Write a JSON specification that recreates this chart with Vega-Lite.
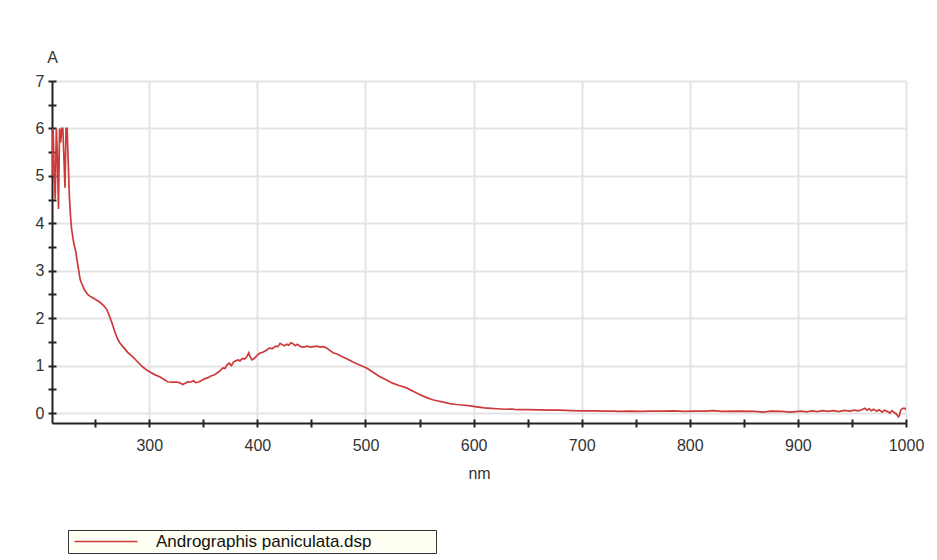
{
  "$schema": "https://vega.github.io/schema/vega-lite/v6.json",
  "width": 854,
  "height": 342,
  "autosize": {"type": "none"},
  "padding": {"left": 52, "top": 81, "right": 31, "bottom": 137},
  "background": "white",
  "config": {
    "view": {"stroke": null},
    "font": "Liberation Sans"
  },
  "data": {
    "values": [
      {"nm": 210, "A": 5.0}, {"nm": 211, "A": 6.0}, {"nm": 212, "A": 5.1}, {"nm": 213, "A": 4.5},
      {"nm": 214, "A": 6.0}, {"nm": 215, "A": 5.4}, {"nm": 216, "A": 4.3}, {"nm": 217, "A": 6.0},
      {"nm": 218, "A": 5.7}, {"nm": 219, "A": 6.0}, {"nm": 220, "A": 6.0}, {"nm": 221, "A": 5.4},
      {"nm": 222, "A": 4.75}, {"nm": 223, "A": 6.0}, {"nm": 224, "A": 6.0}, {"nm": 225, "A": 5.3},
      {"nm": 226, "A": 4.6}, {"nm": 227, "A": 4.2}, {"nm": 228, "A": 3.9}, {"nm": 229, "A": 3.75},
      {"nm": 230, "A": 3.6}, {"nm": 232, "A": 3.4}, {"nm": 234, "A": 3.1}, {"nm": 236, "A": 2.82},
      {"nm": 238, "A": 2.7}, {"nm": 240, "A": 2.6}, {"nm": 243, "A": 2.5}, {"nm": 246, "A": 2.45},
      {"nm": 250, "A": 2.4}, {"nm": 254, "A": 2.34}, {"nm": 258, "A": 2.26}, {"nm": 261, "A": 2.17},
      {"nm": 263, "A": 2.05}, {"nm": 265.5, "A": 1.9}, {"nm": 268, "A": 1.72}, {"nm": 271, "A": 1.55},
      {"nm": 273, "A": 1.47}, {"nm": 276, "A": 1.39}, {"nm": 280, "A": 1.28}, {"nm": 285, "A": 1.18},
      {"nm": 290, "A": 1.06}, {"nm": 294, "A": 0.97}, {"nm": 298, "A": 0.9}, {"nm": 301, "A": 0.86},
      {"nm": 305, "A": 0.81}, {"nm": 310, "A": 0.76}, {"nm": 314, "A": 0.7}, {"nm": 317, "A": 0.66},
      {"nm": 321, "A": 0.65}, {"nm": 325, "A": 0.65}, {"nm": 328, "A": 0.64}, {"nm": 331, "A": 0.6},
      {"nm": 334, "A": 0.64}, {"nm": 336, "A": 0.66}, {"nm": 338, "A": 0.65}, {"nm": 341, "A": 0.68},
      {"nm": 343, "A": 0.64}, {"nm": 345, "A": 0.65}, {"nm": 348, "A": 0.68}, {"nm": 351, "A": 0.72},
      {"nm": 354, "A": 0.74}, {"nm": 357, "A": 0.78}, {"nm": 360, "A": 0.8}, {"nm": 363, "A": 0.85},
      {"nm": 365, "A": 0.88}, {"nm": 368, "A": 0.95}, {"nm": 370, "A": 0.94}, {"nm": 372, "A": 1.02},
      {"nm": 374, "A": 1.05}, {"nm": 376, "A": 1.0}, {"nm": 378, "A": 1.08}, {"nm": 380, "A": 1.1},
      {"nm": 382, "A": 1.12}, {"nm": 384, "A": 1.1}, {"nm": 386, "A": 1.15}, {"nm": 388, "A": 1.14},
      {"nm": 390, "A": 1.18}, {"nm": 392, "A": 1.27}, {"nm": 393, "A": 1.2}, {"nm": 395, "A": 1.12},
      {"nm": 397, "A": 1.15}, {"nm": 399, "A": 1.2}, {"nm": 402, "A": 1.26}, {"nm": 405, "A": 1.28},
      {"nm": 408, "A": 1.32}, {"nm": 411, "A": 1.37}, {"nm": 414, "A": 1.36}, {"nm": 417, "A": 1.41},
      {"nm": 419, "A": 1.4}, {"nm": 421, "A": 1.47}, {"nm": 423, "A": 1.44}, {"nm": 425, "A": 1.42},
      {"nm": 427, "A": 1.45}, {"nm": 429, "A": 1.43}, {"nm": 431, "A": 1.48}, {"nm": 433, "A": 1.46},
      {"nm": 435, "A": 1.42}, {"nm": 437, "A": 1.45}, {"nm": 440, "A": 1.4}, {"nm": 443, "A": 1.39},
      {"nm": 446, "A": 1.41}, {"nm": 449, "A": 1.39}, {"nm": 452, "A": 1.4}, {"nm": 455, "A": 1.41},
      {"nm": 458, "A": 1.39}, {"nm": 461, "A": 1.4}, {"nm": 464, "A": 1.37}, {"nm": 467, "A": 1.32},
      {"nm": 470, "A": 1.27}, {"nm": 473, "A": 1.25}, {"nm": 476, "A": 1.22}, {"nm": 479, "A": 1.18},
      {"nm": 484, "A": 1.13}, {"nm": 488, "A": 1.08}, {"nm": 494, "A": 1.02}, {"nm": 501, "A": 0.95},
      {"nm": 507, "A": 0.86}, {"nm": 513, "A": 0.77}, {"nm": 519, "A": 0.7}, {"nm": 525, "A": 0.63},
      {"nm": 531, "A": 0.58}, {"nm": 538, "A": 0.53}, {"nm": 544, "A": 0.46}, {"nm": 550, "A": 0.39},
      {"nm": 556, "A": 0.33}, {"nm": 562, "A": 0.28}, {"nm": 566, "A": 0.26}, {"nm": 572, "A": 0.23},
      {"nm": 578, "A": 0.2}, {"nm": 584, "A": 0.18}, {"nm": 590, "A": 0.17}, {"nm": 597, "A": 0.15},
      {"nm": 603, "A": 0.13}, {"nm": 610, "A": 0.11}, {"nm": 616, "A": 0.1}, {"nm": 622, "A": 0.09},
      {"nm": 630, "A": 0.08}, {"nm": 636, "A": 0.085}, {"nm": 640, "A": 0.07}, {"nm": 650, "A": 0.07},
      {"nm": 660, "A": 0.065}, {"nm": 673, "A": 0.06}, {"nm": 680, "A": 0.06}, {"nm": 690, "A": 0.05},
      {"nm": 700, "A": 0.045}, {"nm": 712, "A": 0.045}, {"nm": 720, "A": 0.04}, {"nm": 730, "A": 0.04},
      {"nm": 735, "A": 0.035}, {"nm": 745, "A": 0.04}, {"nm": 755, "A": 0.035}, {"nm": 765, "A": 0.04},
      {"nm": 775, "A": 0.04}, {"nm": 785, "A": 0.045}, {"nm": 795, "A": 0.035}, {"nm": 805, "A": 0.04},
      {"nm": 815, "A": 0.04}, {"nm": 822, "A": 0.05}, {"nm": 830, "A": 0.035}, {"nm": 845, "A": 0.04},
      {"nm": 860, "A": 0.035}, {"nm": 868, "A": 0.02}, {"nm": 875, "A": 0.04}, {"nm": 885, "A": 0.035},
      {"nm": 893, "A": 0.02}, {"nm": 898, "A": 0.03}, {"nm": 903, "A": 0.04}, {"nm": 908, "A": 0.025},
      {"nm": 913, "A": 0.045}, {"nm": 918, "A": 0.03}, {"nm": 923, "A": 0.05}, {"nm": 928, "A": 0.035},
      {"nm": 933, "A": 0.05}, {"nm": 938, "A": 0.03}, {"nm": 943, "A": 0.055}, {"nm": 948, "A": 0.04},
      {"nm": 952, "A": 0.06}, {"nm": 956, "A": 0.045}, {"nm": 960, "A": 0.08}, {"nm": 962, "A": 0.1},
      {"nm": 964, "A": 0.06}, {"nm": 966, "A": 0.09}, {"nm": 968, "A": 0.05}, {"nm": 970, "A": 0.08},
      {"nm": 973, "A": 0.04}, {"nm": 975, "A": 0.07}, {"nm": 978, "A": 0.02}, {"nm": 980, "A": 0.06},
      {"nm": 983, "A": 0.03}, {"nm": 985, "A": 0.0}, {"nm": 987, "A": 0.05}, {"nm": 989, "A": 0.01},
      {"nm": 991, "A": -0.02}, {"nm": 993, "A": -0.08}, {"nm": 994, "A": -0.05}, {"nm": 995, "A": 0.06},
      {"nm": 997, "A": 0.1}, {"nm": 999, "A": 0.1}, {"nm": 1000, "A": 0.07}
    ]
  },
  "resolve": {"axis": {"x": "independent", "y": "independent"}},
  "layer": [
    {
      "mark": {"type": "line", "strokeWidth": 1.7, "clip": true},
      "encoding": {
        "x": {
          "field": "nm", "type": "quantitative",
          "scale": {"domain": [210, 1000], "nice": false, "zero": false},
          "axis": {
            "values": [250, 300, 350, 400, 450, 500, 550, 600, 650, 700, 750, 800, 850, 900, 950, 1000],
            "labelExpr": "datum.value % 100 === 0 ? datum.label : ''",
            "format": "d",
            "labelFlush": false,
            "labelOverlap": false,
            "gridColor": {"condition": {"test": "datum.value % 100 !== 0", "value": "transparent"}, "value": "#e4e4e4"},
            "gridWidth": 2,
            "tickSize": 4, "tickColor": "#222", "tickWidth": 2,
            "domainColor": "#222", "domainWidth": 2,
            "labelFontSize": 16, "labelColor": "#333", "labelPadding": 10,
            "title": "nm", "titleFontSize": 16, "titleFontWeight": "normal", "titleColor": "#333",
            "titleX": 427, "titleY": 55, "titleAlign": "center", "titleBaseline": "alphabetic"
          }
        },
        "y": {
          "field": "A", "type": "quantitative",
          "scale": {"domain": [-0.21, 7], "nice": false, "zero": false},
          "axis": {
            "values": [0, 0.5, 1, 1.5, 2, 2.5, 3, 3.5, 4, 4.5, 5, 5.5, 6, 6.5, 7],
            "labelExpr": "datum.value % 1 === 0 ? format(datum.value, 'd') : ''",
            "labelOverlap": false,
            "labelFlush": false,
            "gridColor": {"condition": {"test": "datum.value % 1 !== 0", "value": "transparent"}, "value": "#e4e4e4"},
            "gridWidth": 2,
            "tickSize": 4, "tickColor": "#222", "tickWidth": 2,
            "domainColor": "#222", "domainWidth": 2,
            "labelFontSize": 16, "labelColor": "#333", "labelPadding": 4,
            "title": "A", "titleFontSize": 16, "titleFontWeight": "normal", "titleColor": "#333",
            "titleAngle": 0, "titleX": 0, "titleY": -19, "titleAlign": "center", "titleBaseline": "alphabetic"
          }
        },
        "color": {
          "datum": "Andrographis paniculata.dsp",
          "scale": {"range": ["#cd3a3a"]},
          "legend": {
            "orient": "none", "legendX": 16, "legendY": 449,
            "title": " ",
            "titleOrient": "right",
            "titlePadding": 62,
            "titleFontSize": 8,
            "symbolType": "M-1,0H11.6",
            "symbolSize": 100,
            "symbolStrokeWidth": 1.6,
            "labelOffset": 68,
            "labelFontSize": 17,
            "labelLimit": 500,
            "labelColor": "#111",
            "fillColor": "#fffff4",
            "strokeColor": "#333",
            "padding": 3
          }
        }
      }
    },
    {
      "mark": {"type": "line", "opacity": 0},
      "encoding": {
        "x": {
          "field": "nm", "type": "quantitative",
          "axis": {
            "orient": "top", "offset": -342,
            "values": [250, 300, 350, 400, 450, 500, 550, 600, 650, 700, 750, 800, 850, 900, 950, 1000],
            "labels": false, "domain": false, "grid": false, "title": null,
            "tickSize": 4, "tickColor": "#222", "tickWidth": 2
          }
        },
        "y": {
          "field": "A", "type": "quantitative",
          "axis": {
            "orient": "right", "offset": -854,
            "values": [0, 0.5, 1, 1.5, 2, 2.5, 3, 3.5, 4, 4.5, 5, 5.5, 6, 6.5, 7],
            "labels": false, "domain": false, "grid": false, "title": null,
            "tickSize": 4, "tickColor": "#222", "tickWidth": 2
          }
        }
      }
    }
  ]
}
